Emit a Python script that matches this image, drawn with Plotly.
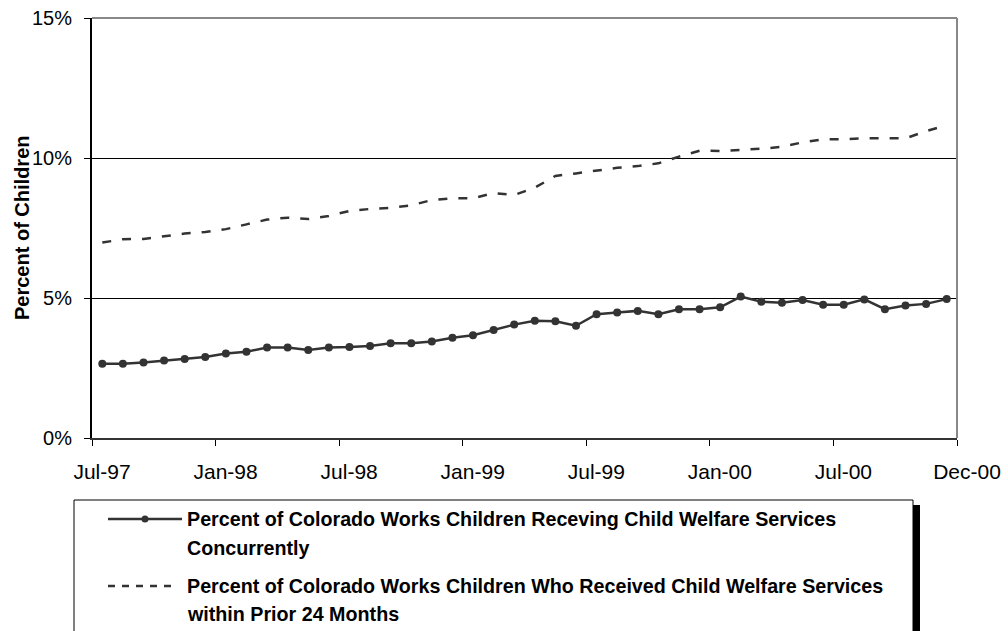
import plotly.graph_objects as go

# Monthly series, Jul-97 through Dec-00 (percent of children)
months = [
    "Jul-97", "Aug-97", "Sep-97", "Oct-97", "Nov-97", "Dec-97",
    "Jan-98", "Feb-98", "Mar-98", "Apr-98", "May-98", "Jun-98",
    "Jul-98", "Aug-98", "Sep-98", "Oct-98", "Nov-98", "Dec-98",
    "Jan-99", "Feb-99", "Mar-99", "Apr-99", "May-99", "Jun-99",
    "Jul-99", "Aug-99", "Sep-99", "Oct-99", "Nov-99", "Dec-99",
    "Jan-00", "Feb-00", "Mar-00", "Apr-00", "May-00", "Jun-00",
    "Jul-00", "Aug-00", "Sep-00", "Oct-00", "Nov-00", "Dec-00",
]

concurrent = [
    2.65, 2.65, 2.70, 2.77, 2.82, 2.89, 3.02, 3.08, 3.23, 3.23, 3.14, 3.23,
    3.25, 3.29, 3.38, 3.38, 3.45, 3.58, 3.67, 3.86, 4.05, 4.19, 4.17, 4.01,
    4.42, 4.48, 4.54, 4.42, 4.60, 4.60, 4.67, 5.05, 4.87, 4.83, 4.93, 4.76,
    4.76, 4.95, 4.60, 4.73, 4.79, 4.96,
]

prior_24 = [
    6.98, 7.10, 7.11, 7.21, 7.30, 7.36, 7.46, 7.63, 7.80, 7.87, 7.82, 7.93,
    8.11, 8.18, 8.22, 8.31, 8.50, 8.56, 8.56, 8.75, 8.68, 8.94, 9.36, 9.45,
    9.55, 9.65, 9.71, 9.81, 10.05, 10.26, 10.25, 10.29, 10.33, 10.40, 10.56, 10.67,
    10.67, 10.71, 10.70, 10.70, 10.96, 11.17,
]

# Axis tick labels (placed on month-slot boundaries)
x_tick_slots = [0, 6, 12, 18, 24, 30, 36, 42]
x_tick_labels = ["Jul-97", "Jan-98", "Jul-98", "Jan-99", "Jul-99", "Jan-00", "Jul-00", "Dec-00"]
y_tick_vals = [0, 5, 10, 15]
y_tick_labels = ["0%", "5%", "10%", "15%"]
y_title = "Percent of Children"

legend_names = [
    ["Percent of Colorado Works Children Receving Child Welfare Services", "Concurrently"],
    ["Percent of Colorado Works Children Who Received Child Welfare Services", "within Prior 24 Months"],
]

W, H = 1008, 631
ML, MR, MT, MB = 92, 51, 18, 193
PW, PH = W - ML - MR, H - MT - MB

FONT = "Liberation Sans, Arial, sans-serif"
INK = "#333333"


def px_x(x):
    return (x - ML) / PW


def px_y(y):
    return (MT + PH - y) / PH


# each month is drawn in the middle of its slot
x_pos = [i + 0.5 for i in range(len(months))]

fig = go.Figure()
fig.add_trace(go.Scatter(
    x=x_pos, y=prior_24, mode="lines", name=" ".join(legend_names[1]),
    line=dict(color=INK, width=2.5, dash="9px,11px"),
    text=months, hovertemplate="%{text}: %{y:.2f}%<extra></extra>",
))
fig.add_trace(go.Scatter(
    x=x_pos, y=concurrent, mode="lines+markers", name=" ".join(legend_names[0]),
    line=dict(color=INK, width=2.5),
    marker=dict(symbol="circle", size=8, color=INK),
    text=months, hovertemplate="%{text}: %{y:.2f}%<extra></extra>",
))

shapes = [
    # plot frame: grey top and right edges
    dict(type="line", xref="paper", yref="paper", x0=0, x1=1, y0=1, y1=1,
         line=dict(color="#888888", width=2), layer="above"),
    dict(type="line", xref="paper", yref="paper", x0=1, x1=1, y0=0, y1=1,
         line=dict(color="#888888", width=2), layer="above"),
    # legend drop shadow and box
    dict(type="rect", xref="paper", yref="paper",
         x0=px_x(913), x1=px_x(920), y0=px_y(505), y1=px_y(700),
         fillcolor="black", line=dict(width=0), layer="above"),
    dict(type="rect", xref="paper", yref="paper",
         x0=px_x(74), x1=px_x(913), y0=px_y(500), y1=px_y(700),
         fillcolor="white", line=dict(color="black", width=1), layer="above"),
    # legend samples
    dict(type="line", xref="paper", yref="paper",
         x0=px_x(108), x1=px_x(182), y0=px_y(519), y1=px_y(519),
         line=dict(color=INK, width=2.5), layer="above"),
    dict(type="circle", xref="paper", yref="paper",
         x0=px_x(141.5), x1=px_x(148.5), y0=px_y(522.5), y1=px_y(515.5),
         fillcolor=INK, line=dict(color=INK, width=0), layer="above"),
    dict(type="line", xref="paper", yref="paper",
         x0=px_x(108), x1=px_x(178), y0=px_y(586), y1=px_y(586),
         line=dict(color=INK, width=2.5, dash="7px,7px"), layer="above"),
]

annotations = [
    dict(xref="paper", yref="paper", x=px_x(22), y=0.5, xanchor="center", yanchor="middle",
         textangle=-90, showarrow=False, text=f"<b>{y_title}</b>",
         font=dict(family=FONT, size=20, color="black")),
]
row_y = [[519, 548], [586, 614]]
for name_lines, ys in zip(legend_names, row_y):
    for txt, yy in zip(name_lines, ys):
        annotations.append(dict(
            xref="paper", yref="paper", x=px_x(185), y=px_y(yy),
            xanchor="left", yanchor="middle", showarrow=False, text=f"<b>{txt}</b>",
            font=dict(family=FONT, size=19.7, color="black"),
        ))

fig.update_layout(
    width=W, height=H,
    margin=dict(l=ML, r=MR, t=MT, b=MB, pad=0, autoexpand=False),
    paper_bgcolor="white", plot_bgcolor="white",
    showlegend=False,
    font=dict(family=FONT, size=20, color="black"),
    shapes=shapes, annotations=annotations,
    xaxis=dict(
        range=[0, len(months)], tickmode="array",
        tickvals=x_tick_slots, ticktext=x_tick_labels,
        ticks="outside", ticklen=6, tickwidth=1, tickcolor="black",
        ticklabelshift=10, ticklabelstandoff=8,
        showline=True, linecolor="#333333", linewidth=2,
        showgrid=False, zeroline=False, automargin=False,
        tickfont=dict(family=FONT, size=21, color="black"),
    ),
    yaxis=dict(
        range=[0, 15], tickmode="array",
        tickvals=y_tick_vals, ticktext=y_tick_labels,
        ticks="outside", ticklen=6, tickwidth=1, tickcolor="black",
        ticklabelstandoff=8,
        showline=True, linecolor="black", linewidth=2,
        showgrid=True, gridcolor="black", gridwidth=1, zeroline=False,
        automargin=False,
        tickfont=dict(family=FONT, size=20, color="black"),
    ),
)

fig.write_html("out.html")
